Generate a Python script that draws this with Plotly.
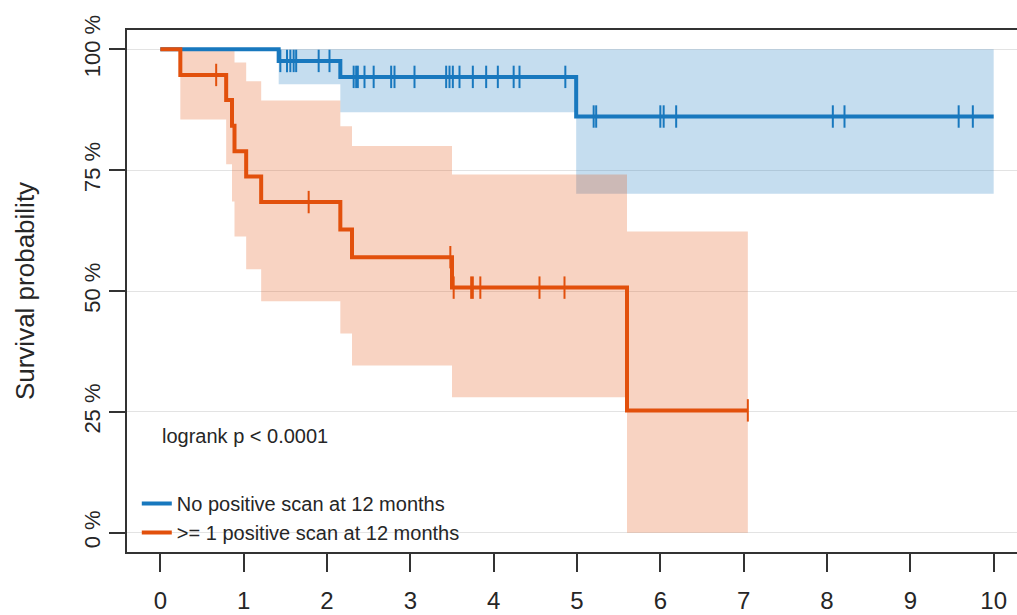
import plotly.graph_objects as go

# ---- data ----
x_ticks = [0, 1, 2, 3, 4, 5, 6, 7, 8, 9, 10]
y_ticks = [0, 0.25, 0.5, 0.75, 1.0]
y_tick_text = ["0 %", "25 %", "50 %", "75 %", "100 %"]

# Group 1: No positive scan at 12 months
blue_name = "No positive scan at 12 months"
blue_t = [0, 1.42, 2.16, 4.99, 10.0]
blue_s = [1.0, 0.976, 0.943, 0.861, 0.861]
blue_lo = [1.0, 0.928, 0.870, 0.701, 0.701]
blue_hi = [1.0, 1.0, 1.0, 1.0, 1.0]
blue_cens = [1.44, 1.52, 1.56, 1.60, 1.63, 1.90, 2.03,
             2.32, 2.35, 2.37, 2.45, 2.56, 2.77, 2.81, 3.05, 3.43, 3.47, 3.51,
             3.59, 3.75, 3.91, 4.05, 4.24, 4.31, 4.86,
             5.20, 5.23, 6.00, 6.04, 6.19, 8.07, 8.21, 9.58, 9.75]

# Group 2: >= 1 positive scan at 12 months
orng_name = ">= 1 positive scan at 12 months"
orng_t = [0, 0.24, 0.79, 0.86, 0.89, 1.03, 1.21, 2.16, 2.30, 3.50, 5.60, 7.05]
orng_s = [1.0, 0.947, 0.895, 0.842, 0.789, 0.737, 0.684, 0.627, 0.570, 0.507, 0.253, 0.253]
orng_lo = [1.0, 0.855, 0.762, 0.685, 0.613, 0.545, 0.479, 0.412, 0.346, 0.280, 0.0, 0.0]
orng_hi = [1.0, 1.0, 1.0, 1.0, 0.973, 0.934, 0.894, 0.841, 0.800, 0.741, 0.623, 0.623]
orng_cens = [0.67, 1.78, 3.48, 3.52, 3.73, 3.75, 3.84, 4.55, 4.85, 7.05]

pval_text = "logrank p < 0.0001"

BLUE = "#1878be"
BLUE_BAND = "rgba(24,120,190,0.25)"
ORNG = "#e2500c"
ORNG_BAND = "rgba(226,80,12,0.25)"
FONT = "Liberation Sans, Arial, sans-serif"
TXT = "#262626"


def step_at(ts, ss, t):
    v = ss[0]
    for ti, si in zip(ts, ss):
        if ti <= t:
            v = si
    return v


fig = go.Figure()

# confidence bands
for t, lo, hi, band in [(blue_t, blue_lo, blue_hi, BLUE_BAND),
                        (orng_t, orng_lo, orng_hi, ORNG_BAND)]:
    fig.add_trace(go.Scatter(x=t, y=lo, mode="lines", line=dict(width=0, shape="hv"),
                             showlegend=False, hoverinfo="skip"))
    fig.add_trace(go.Scatter(x=t, y=hi, mode="lines", line=dict(width=0, shape="hv"),
                             fill="tonexty", fillcolor=band, showlegend=False, hoverinfo="skip"))

# survival curves
fig.add_trace(go.Scatter(x=blue_t, y=blue_s, mode="lines", name=blue_name,
                         line=dict(color=BLUE, width=4, shape="hv")))
fig.add_trace(go.Scatter(x=orng_t, y=orng_s, mode="lines", name=orng_name,
                         line=dict(color=ORNG, width=4, shape="hv")))

# censor marks
for t, s, cens, col in [(blue_t, blue_s, blue_cens, BLUE), (orng_t, orng_s, orng_cens, ORNG)]:
    fig.add_trace(go.Scatter(x=cens, y=[step_at(t, s, c) for c in cens], mode="markers",
                             marker=dict(symbol="line-ns", size=16, color=col,
                                         line=dict(color=col, width=2)),
                             showlegend=False, hoverinfo="skip"))

fig.add_annotation(x=0, y=0.2, xref="x", yref="y", text=pval_text, showarrow=False,
                   xanchor="left", yanchor="middle", font=dict(family=FONT, size=20, color=TXT))

fig.update_layout(
    width=1017, height=615,
    margin=dict(l=127, r=0, t=30, b=63),
    paper_bgcolor="white", plot_bgcolor="white",
    font=dict(family=FONT, color=TXT),
    showlegend=True,
    legend=dict(x=0.011, y=0.0, xanchor="left", yanchor="bottom", bgcolor="rgba(0,0,0,0)",
                font=dict(family=FONT, size=20, color=TXT), tracegroupgap=0,
                itemwidth=30, traceorder="normal"),
    xaxis=dict(range=[-0.4, 10.28], tickvals=x_ticks, showgrid=False, zeroline=False,
               showline=True, mirror=True, linecolor="#333", linewidth=1.5,
               ticks="outside", ticklen=18, tickwidth=1.5, tickcolor="#333",
               tickfont=dict(family=FONT, size=24, color=TXT), ticklabelstandoff=8),
    yaxis=dict(range=[-0.04, 1.04], tickvals=y_ticks, ticktext=y_tick_text, tickangle=-90,
               showgrid=True, gridcolor="#e3e3e3", gridwidth=1, zeroline=False,
               showline=True, mirror=False, linecolor="#333", linewidth=1.5,
               ticks="outside", ticklen=16, tickwidth=1.5, tickcolor="#333",
               tickfont=dict(family=FONT, size=22, color=TXT),
               title=dict(text="Survival probability", standoff=38,
                          font=dict(family=FONT, size=26, color=TXT))),
)

fig.write_html("out.html")
